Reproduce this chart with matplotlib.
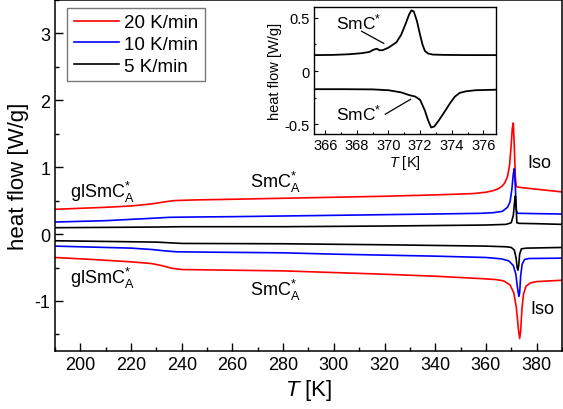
import matplotlib
matplotlib.use("Agg")
import matplotlib.pyplot as plt
from matplotlib.ticker import MultipleLocator

plt.rcParams['font.family'] = ['Liberation Sans', 'DejaVu Sans']
plt.rcParams['mathtext.fontset'] = 'custom'
plt.rcParams['mathtext.rm'] = 'Liberation Sans'
plt.rcParams['mathtext.it'] = 'Liberation Sans:italic'
plt.rcParams['axes.unicode_minus'] = False

# ---------------- data ----------------
rates = ['20 K/min', '10 K/min', '5 K/min']
colors = ['#ff0000', '#0000ff', '#000000']

# heating (upper) curves
T_red_up = [190, 200, 210, 220, 228, 233, 237, 245, 260, 280, 300, 320, 340, 355, 360, 363, 365,
            366.5, 367.5, 368.5, 369.3, 369.9, 370.4, 370.8, 371.2, 371.6, 372.0, 373, 375, 380, 390]
v_red_up = [0.37, 0.385, 0.40, 0.42, 0.45, 0.48, 0.50, 0.51, 0.52, 0.535, 0.55, 0.565, 0.585, 0.605,
            0.625, 0.65, 0.68, 0.72, 0.77, 0.86, 1.02, 1.3, 1.58, 1.66, 1.3, 0.85, 0.71, 0.70, 0.69, 0.67, 0.63]

T_blue_up = [190, 200, 210, 220, 228, 235, 245, 260, 280, 300, 320, 340, 358, 363, 366.5, 368.5, 369.5,
             370.2, 370.8, 371.2, 371.6, 372.0, 372.4, 373, 380, 390]
v_blue_up = [0.18, 0.19, 0.20, 0.22, 0.235, 0.25, 0.255, 0.26, 0.27, 0.28, 0.29, 0.30, 0.31, 0.32,
             0.34, 0.40, 0.48, 0.66, 0.90, 0.98, 0.7, 0.36, 0.31, 0.31, 0.305, 0.30]

T_blk_up = [190, 210, 230, 240, 280, 320, 360, 368, 370, 370.8, 371.3, 371.6, 371.9, 372.2, 373, 380, 390]
v_blk_up = [0.095, 0.10, 0.105, 0.11, 0.11, 0.12, 0.135, 0.145, 0.17, 0.28, 0.48, 0.57, 0.40, 0.17,
            0.16, 0.155, 0.145]

# cooling (lower) curves
T_blk_dn = [190, 210, 230, 240, 280, 320, 360, 368, 370, 371.2, 371.9, 372.3, 372.6, 372.9, 373.3,
            374, 376, 390]
v_blk_dn = [-0.10, -0.11, -0.12, -0.14, -0.145, -0.16, -0.18, -0.19, -0.20, -0.24, -0.36, -0.50,
            -0.54, -0.48, -0.30, -0.22, -0.21, -0.20]

T_blue_dn = [190, 205, 220, 228, 233, 238, 250, 280, 300, 320, 340, 360, 366, 369, 370.8, 371.8,
             372.5, 373.0, 373.3, 373.7, 374.3, 375.2, 377, 390]
v_blue_dn = [-0.18, -0.195, -0.21, -0.23, -0.25, -0.265, -0.27, -0.28, -0.30, -0.315, -0.33, -0.35,
             -0.37, -0.40, -0.47, -0.60, -0.82, -0.93, -0.88, -0.62, -0.45, -0.38, -0.365, -0.36]

T_red_dn = [190, 205, 220, 228, 232, 236, 240, 250, 280, 300, 320, 340, 358, 364, 367, 369.5, 371,
            372, 372.8, 373.3, 373.7, 374.2, 374.8, 375.8, 377.5, 380, 390]
v_red_dn = [-0.35, -0.38, -0.415, -0.44, -0.47, -0.51, -0.53, -0.535, -0.55, -0.575, -0.60, -0.63,
            -0.665, -0.68, -0.70, -0.76, -0.88, -1.10, -1.42, -1.56, -1.45, -1.12, -0.90, -0.78,
            -0.73, -0.71, -0.69]

# inset (5 K/min)
T_in_up = [365.3, 366.5, 367.5, 368.3, 368.8, 369.05, 369.25, 369.45, 369.65, 370.0, 370.5, 370.8,
           371.1, 371.3, 371.45, 371.6, 371.8, 372.0, 372.15, 372.3, 372.5, 372.8, 373.5, 375, 376.8]
v_in_up = [0.15, 0.152, 0.158, 0.168, 0.18, 0.20, 0.21, 0.195, 0.197, 0.22, 0.27, 0.34, 0.45, 0.53,
           0.57, 0.56, 0.47, 0.34, 0.25, 0.19, 0.165, 0.155, 0.152, 0.15, 0.15]

T_in_dn = [365.3, 367, 369, 370, 370.8, 371.3, 371.7, 372.0, 372.3, 372.5, 372.7, 372.9, 373.2,
           373.6, 373.9, 374.2, 374.5, 374.9, 375.5, 376.8]
v_in_dn = [-0.17, -0.17, -0.172, -0.18, -0.20, -0.225, -0.24, -0.27, -0.37, -0.46, -0.53, -0.52,
           -0.46, -0.37, -0.30, -0.24, -0.205, -0.19, -0.18, -0.175]

inset_yticks = [-0.5, 0, 0.5]
inset_yticklabels = ['-0.5', '0', '0.5']

# ---------------- figure ----------------
fig = plt.figure(figsize=(5.63, 4.10), dpi=100)
ax = fig.add_axes([0.0977, 0.141, 0.9005, 0.857])

lw = 1.2
ax.plot(T_red_up, v_red_up, color=colors[0], lw=lw, label=rates[0])
ax.plot(T_blue_up, v_blue_up, color=colors[1], lw=lw, label=rates[1])
ax.plot(T_blk_up, v_blk_up, color=colors[2], lw=lw, label=rates[2])
ax.plot(T_blk_dn, v_blk_dn, color=colors[2], lw=lw)
ax.plot(T_blue_dn, v_blue_dn, color=colors[1], lw=lw)
ax.plot(T_red_dn, v_red_dn, color=colors[0], lw=lw)

ax.set_xlim(190, 390)
ax.set_ylim(-1.75, 3.5)
ax.xaxis.set_major_locator(MultipleLocator(20))
ax.xaxis.set_minor_locator(MultipleLocator(10))
ax.yaxis.set_major_locator(MultipleLocator(1))
ax.yaxis.set_minor_locator(MultipleLocator(0.5))
ax.tick_params(which='both', direction='in', top=False, right=False, labelsize=13)
ax.tick_params(which='major', length=6, width=1)
ax.tick_params(which='minor', length=3, width=1)
for s in ax.spines.values():
    s.set_linewidth(1.1)
ax.set_xlabel(r'$\mathit{T}$ [K]', fontsize=16, labelpad=3)
ax.set_ylabel('heat flow [W/g]', fontsize=16, labelpad=4)

leg = ax.legend(loc='upper left', bbox_to_anchor=(0.024, 0.978), fontsize=13.5, frameon=True,
                fancybox=False, edgecolor='#555555', handlelength=2.4, handletextpad=0.3,
                borderpad=0.35, labelspacing=0.25, borderaxespad=0.0)
leg.get_frame().set_linewidth(1.0)

fs = 13
ax.text(196, 0.555, r'glSmC$^{*}_{\mathrm{A}}$', fontsize=fs, ha='left', va='baseline')
ax.text(267, 0.71, r'SmC$^{*}_{\mathrm{A}}$', fontsize=fs, ha='left', va='baseline')
ax.text(376.3, 1.0, 'Iso', fontsize=fs, ha='left', va='baseline')
ax.text(196, -0.73, r'glSmC$^{*}_{\mathrm{A}}$', fontsize=fs, ha='left', va='baseline')
ax.text(267, -0.915, r'SmC$^{*}_{\mathrm{A}}$', fontsize=fs, ha='left', va='baseline')
ax.text(377.5, -1.18, 'Iso', fontsize=fs, ha='left', va='baseline')

# ---------------- inset ----------------
ins = fig.add_axes([0.558, 0.671, 0.323, 0.309])
ins.plot(T_in_up, v_in_up, color='black', lw=1.3)
ins.plot(T_in_dn, v_in_dn, color='black', lw=1.3)
ins.set_xlim(365.3, 376.8)
ins.set_ylim(-0.59, 0.6)
ins.xaxis.set_major_locator(MultipleLocator(2))
ins.xaxis.set_minor_locator(MultipleLocator(1))
ins.set_yticks(inset_yticks)
ins.set_yticklabels(inset_yticklabels)
ins.yaxis.set_minor_locator(MultipleLocator(0.25))
ins.tick_params(which='both', direction='in', top=False, right=False, labelsize=10.5, pad=3)
ins.tick_params(which='major', length=3, width=0.8)
ins.tick_params(which='minor', length=1.5, width=0.8)
for s in ins.spines.values():
    s.set_linewidth(1.0)
ins.set_xlabel(r'$\mathit{T}$ [K]', fontsize=10.5, labelpad=1)
ins.set_ylabel('heat flow [W/g]', fontsize=10.5, labelpad=2)

ins.text(366.7, 0.37, r'SmC$^{*}$', fontsize=12.5, ha='left', va='bottom')
ins.plot([368.3, 369.7], [0.374, 0.26], color='black', lw=0.9)
ins.text(366.7, -0.48, r'SmC$^{*}$', fontsize=12.5, ha='left', va='bottom')
ins.plot([369.8, 371.4], [-0.405, -0.265], color='black', lw=0.9)

fig.savefig('out.png', dpi=100)
